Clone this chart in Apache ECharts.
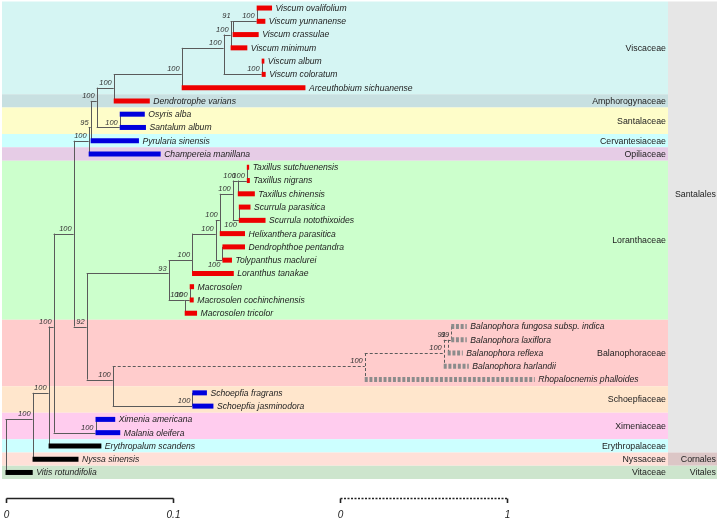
<!DOCTYPE html>
<html><head><meta charset="utf-8">
<script src="https://cdn.jsdelivr.net/npm/echarts@6/dist/echarts.min.js"></script>
<style>html,body{margin:0;padding:0;background:#fff}#c{width:720px;height:521px}</style>
</head><body><div id="c"></div><script>
// ---------------- DATA ----------------
const taxa = [
  'Viscum ovalifolium','Viscum yunnanense','Viscum crassulae','Viscum minimum','Viscum album','Viscum coloratum',
  'Arceuthobium sichuanense','Dendrotrophe varians','Osyris alba','Santalum album','Pyrularia sinensis','Champereia manillana',
  'Taxillus sutchuenensis','Taxillus nigrans','Taxillus chinensis','Scurrula parasitica','Scurrula notothixoides',
  'Helixanthera parasitica','Dendrophthoe pentandra','Tolypanthus maclurei','Loranthus tanakae','Macrosolen',
  'Macrosolen cochinchinensis','Macrosolen tricolor','Balanophora fungosa subsp. indica','Balanophora laxiflora',
  'Balanophora reflexa','Balanophora harlandii','Rhopalocnemis phalloides','Schoepfia fragrans','Schoepfia jasminodora',
  'Ximenia americana','Malania oleifera','Erythropalum scandens','Nyssa sinensis','Vitis rotundifolia'
];
// parent clade of each tip
const tipParent = [
  'vOY','vOY','vOYC','vOYCM','vAC','vAC','visc','viscDen','sant','sant','pyr','opil',
  'tSN','tSN','tax','scur','scur','helix','dendTol','dendTol','lor','mac','mac','macT',
  'balC','balC','balB','balA','balRoot','sch','sch','xim','xim','eryth','nyssa','root'
];
// terminal branch lengths (substitutions/site; Balanophoraceae on the dashed scale)
const tipLength = [
  0.0092,0.0052,0.0156,0.0100,0.0016,0.0024,0.0741,0.0216,0.0150,0.0157,0.0289,0.0431,
  0.0014,0.0018,0.0102,0.0070,0.0160,0.0151,0.0135,0.0057,0.0250,0.0026,0.0024,0.0074,
  0.093,0.093,0.090,0.150,1.018,0.0087,0.0126,0.0118,0.0148,0.0316,0.0275,0.0163
];
// lifestyle group of each tip
const tipGroup = [
  'aerial','aerial','aerial','aerial','aerial','aerial','aerial','aerial','root','root','root','root',
  'aerial','aerial','aerial','aerial','aerial','aerial','aerial','aerial','aerial','aerial','aerial','aerial',
  'holo','holo','holo','holo','holo','root','root','root','root','auto','auto','auto'
];
// internal clades
const cladeId      = ['root','nyssa','eryth','xim0','santA','opil','pyr','viscSant','viscDen','visc','vAll','vOYCM','vOYC','vOY','vAC','sant',
                      'n92','lorAll','lor','lorX','helix','tax3','tax','tSN','scur','dendTol','macT','mac','balSch','sch','xim',
                      'balRoot','balA','balB','balC'];
const cladeParent  = [null,'root','nyssa','eryth','xim0','santA','opil','pyr','viscSant','viscDen','visc','vAll','vOYCM','vOYC','vAll','viscSant',
                      'santA','n92','lorAll','lor','lorX','helix','tax3','tax','tax3','lorX','lorAll','macT','n92','balSch','xim0',
                      'balSch','balRoot','balA','balB'];
const cladeLength  = [0,0.0162,0.0096,0.0030,0.0120,0.0090,0.0012,0.0036,0.0102,0.0407,0.0251,0.0042,0.0012,0.0144,0.0228,0.0138,
                      0.0078,0.0491,0.0140,0.0142,0.0024,0.0078,0.0030,0.0054,0.0036,0.0040,0.0096,0.0030,0.0156,0.0477,0.0251,
                      1.509,0.473,0.024,0.021];
const cladeSupport = [null,100,100,100,100,100,95,100,100,100,100,100,91,100,100,100,
                      92,93,100,100,100,100,100,100,100,100,100,100,100,100,100,
                      100,100,91,99];
const dashedClade = 'balRoot';      // branches drawn on the dashed scale
const dashedScaleRatio = 0.1;       // 1 dashed unit = 0.1 solid units

const families = [
  ['Viscaceae',0,6],['Amphorogynaceae',7,7],['Santalaceae',8,9],['Cervantesiaceae',10,10],['Opiliaceae',11,11],
  ['Loranthaceae',12,23],['Balanophoraceae',24,28],['Schoepfiaceae',29,30],['Ximeniaceae',31,32],
  ['Erythropalaceae',33,33],['Nyssaceae',34,34],['Vitaceae',35,35]
];
const orders = [['Santalales',0,33,14],['Cornales',34,34,34],['Vitales',35,35,35]];
const scaleBars = [{from:0,to:0.1,labels:['0','0.1'],dashed:false},{from:0.2,to:0.3,labels:['0','1'],dashed:true}];

// ---------------- STYLE ----------------
const familyColor = {
  Viscaceae:'#d5f5f3',Amphorogynaceae:'#c8e0e1',Santalaceae:'#fefdc9',Cervantesiaceae:'#ccfffe',Opiliaceae:'#e6cce6',
  Loranthaceae:'#ccffcc',Balanophoraceae:'#ffcccc',Schoepfiaceae:'#ffe6cc',Ximeniaceae:'#ffccee',
  Erythropalaceae:'#ccffff',Nyssaceae:'#ffe0d8',Vitaceae:'#cde5cd'
};
const orderColor = {Santalales:'#e6e6e6',Cornales:'#dcc6c6',Vitales:'#cde5cd'};
const groupColor = {aerial:'#ee0000',root:'#0000dd',auto:'#000000',holo:'#8c8c8c'};
const FONT = '"Liberation Sans", Arial, sans-serif';
const lineColor = '#5a5a5a';

// ---------------- TREE BUILD ----------------
const nodes = {};
cladeId.forEach((id,i)=>{nodes[id]={id,parent:cladeParent[i],len:cladeLength[i],sup:cladeSupport[i],children:[],leaf:false};});
taxa.forEach((t,i)=>{nodes['t'+i]={id:'t'+i,parent:tipParent[i],len:tipLength[i],children:[],leaf:true,row:i,name:t,group:tipGroup[i]};});
Object.values(nodes).forEach(n=>{ if(n.parent) nodes[n.parent].children.push(n); });
function isDashed(n){ let c=n; while(c){ if(c.id===dashedClade) return true; c=c.parent?nodes[c.parent]:null;} return false; }
function depth(n){ if(n.depth!==undefined) return n.depth; if(!n.parent){n.depth=0;return 0;}
  n.dashed=isDashed(n); n.depth=depth(nodes[n.parent])+(n.dashed?n.len*dashedScaleRatio:n.len); return n.depth; }
function yOf(n){ if(n.y!==undefined) return n.y; if(n.leaf){n.y=n.row;return n.y;}
  const ys=n.children.map(yOf); n.y=(Math.min(...ys)+Math.max(...ys))/2; return n.y; }
Object.values(nodes).forEach(n=>{depth(n);yOf(n);n.dashed=isDashed(n);});
const allNodes = Object.values(nodes);

const chart = echarts.init(document.getElementById('c'));
const px = v => Math.round(v)+0.5;

function renderBands(params, api){
  const cs = params.coordSys; const h = api.size([0,1])[1];
  const kids=[];
  families.forEach(([name,a,b])=>{
    const y0=api.coord([0,a])[1]-h/2, y1=api.coord([0,b])[1]+h/2;
    kids.push({type:'rect',shape:{x:cs.x,y:y0,width:cs.width,height:y1-y0},style:{fill:familyColor[name]}});
    kids.push({type:'text',style:{text:name,x:cs.x+cs.width-2,y:(y0+y1)/2+0.5,align:'right',verticalAlign:'middle',
      fill:'#222',fontSize:8.8,fontFamily:FONT}});
  });
  orders.forEach(([name,a,b,lr])=>{
    const y0=api.coord([0,a])[1]-h/2, y1=api.coord([0,b])[1]+h/2;
    const xr=cs.x+cs.width;
    kids.push({type:'rect',shape:{x:xr,y:y0,width:49,height:y1-y0},style:{fill:orderColor[name]}});
    kids.push({type:'text',style:{text:name,x:xr+48,y:api.coord([0,lr])[1]+0.5,align:'right',verticalAlign:'middle',
      fill:'#222',fontSize:8.8,fontFamily:FONT}});
  });
  // scale bars
  const ys=498.5;
  scaleBars.forEach(sb=>{
    const x0=px(api.coord([sb.from,0])[0]), x1=px(api.coord([sb.to,0])[0]);
    const ls={stroke:'#222',lineWidth:1.6,lineDash:sb.dashed?[2,1.5]:null};
    kids.push({type:'line',shape:{x1:x0,y1:ys,x2:x1,y2:ys},style:ls});
    kids.push({type:'line',shape:{x1:x0,y1:ys,x2:x0,y2:ys+4.5},style:{stroke:'#222',lineWidth:1.6}});
    kids.push({type:'line',shape:{x1:x1,y1:ys,x2:x1,y2:ys+4.5},style:{stroke:'#222',lineWidth:1.6}});
    [x0,x1].forEach((x,k)=>kids.push({type:'text',style:{text:sb.labels[k],x:x,y:515,align:'center',verticalAlign:'middle',
      fill:'#222',fontSize:10,fontStyle:'italic',fontFamily:FONT}}));
  });
  return {type:'group',children:kids};
}

function renderTree(params, api){
  const kids=[];
  const P = n => api.coord([n.depth, n.y]);
  allNodes.forEach(n=>{
    const [x,y]=P(n);
    if(n.parent){
      const p=nodes[n.parent]; const [xp]=P(p);
      if(n.leaf){
        if(n.group==='holo'){
          kids.push({type:'line',shape:{x1:xp,y1:y,x2:x,y2:y},style:{stroke:groupColor.holo,lineWidth:5,lineDash:[3,1.7],lineCap:'butt'}});
        } else {
          kids.push({type:'rect',shape:{x:xp,y:y-2.5,width:Math.max(x-xp,1.5),height:5},style:{fill:groupColor[n.group]}});
        }
        kids.push({type:'text',style:{text:n.name,x:Math.max(x,xp+1.5)+3.5,y:y+0.5,align:'left',verticalAlign:'middle',
          fill:'#222',fontSize:8.6,fontStyle:'italic',fontFamily:FONT}});
      } else {
        kids.push({type:'line',shape:{x1:xp,y1:px(y),x2:x,y2:px(y)},style:{stroke:lineColor,lineWidth:1,lineDash:n.dashed?[3,2]:null}});
        if(n.sup!=null){
          const sib=p.children; const lower = n.y>=Math.max(...sib.map(c=>c.y));
          const below = lower && (x-xp)<10;
          kids.push({type:'text',style:{text:String(n.sup),x:x-2,y:below?y+4.5:y-5,align:'right',verticalAlign:'middle',
            fill:'#333',fontSize:7.5,fontStyle:'italic',fontFamily:FONT}});
        }
      }
    }
    if(!n.leaf){
      const ys=n.children.map(c=>P(c)[1]);
      kids.push({type:'line',shape:{x1:px(x),y1:Math.min(...ys),x2:px(x),y2:Math.max(...ys)},
        style:{stroke:lineColor,lineWidth:1,lineDash:n.dashed?[3,2]:null}});
    }
  });
  return {type:'group',children:kids};
}

chart.setOption({
  animation:false,
  grid:{left:2,top:1.4,width:666,height:477.7,containLabel:false},
  xAxis:{type:'value',min:-0.0021,max:0.3967,show:false},
  yAxis:{type:'category',data:taxa,inverse:true,show:false},
  series:[
    {type:'custom',coordinateSystem:'cartesian2d',clip:false,silent:true,z:1,data:[[0,0]],renderItem:renderBands},
    {type:'custom',coordinateSystem:'cartesian2d',clip:false,silent:true,z:2,data:[[0,0]],renderItem:renderTree}
  ]
});
</script></body></html>
